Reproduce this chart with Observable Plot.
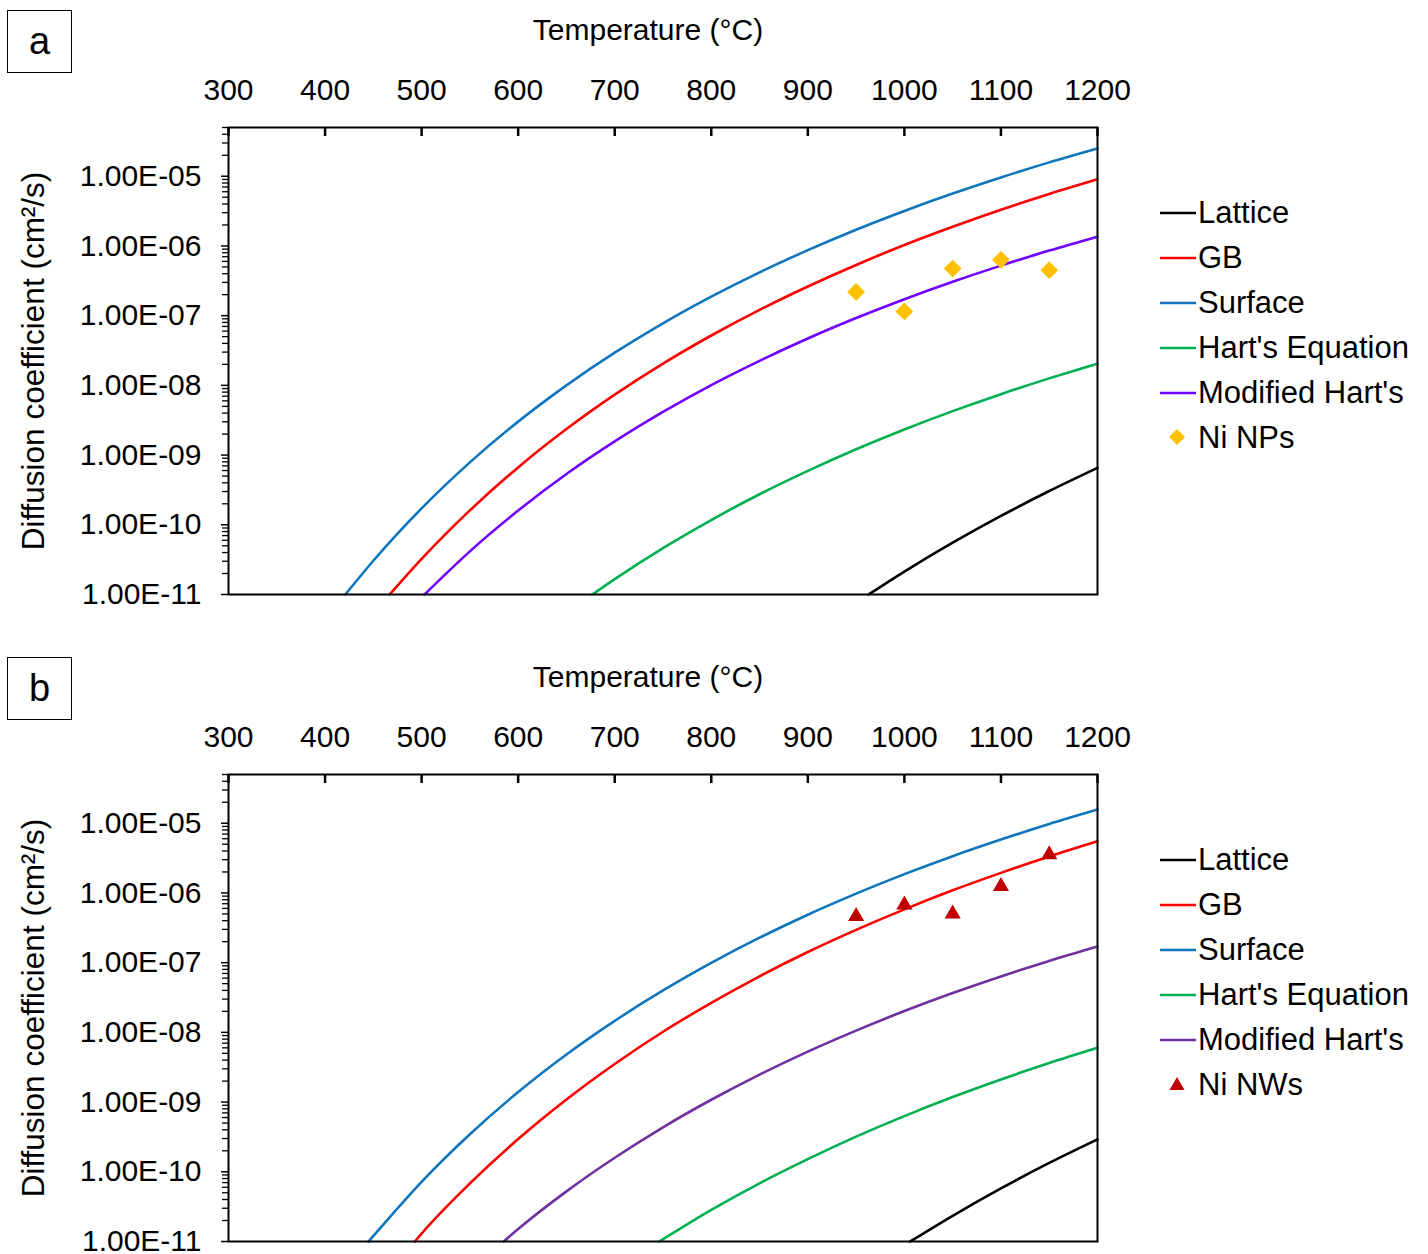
<!DOCTYPE html>
<html><head><meta charset="utf-8">
<script src="https://cdn.jsdelivr.net/npm/d3@7"></script>
<script src="https://cdn.jsdelivr.net/npm/@observablehq/plot@0.6"></script>
<style>
body{margin:0;background:#fff;font-family:"Liberation Sans",Arial,sans-serif;color:#000;}
#wrap{position:relative;width:1428px;height:1254px;overflow:hidden;background:#fff;}
.panel{position:absolute;left:0;width:1428px;height:606px;}
.panel svg{position:absolute;left:0;top:0;}
.tag{position:absolute;left:7px;top:10px;width:63px;height:61px;border:1.5px solid #000;font-size:38px;display:flex;align-items:center;justify-content:center;background:#fff;}
.row{position:absolute;left:1160px;height:44px;display:flex;align-items:center;white-space:nowrap;font-size:31px;}
.row svg{position:static;margin-right:2px;}
</style></head><body><div id="wrap"></div>
<script>
// Temperature grid (°C) for the curves
const temps = [450, 500, 550, 600, 650, 700, 750, 800, 850, 900, 950, 1000, 1050, 1100, 1150, 1200];
const xTicks = [300, 400, 500, 600, 700, 800, 900, 1000, 1100, 1200];
const seriesNames = ["Lattice", "GB", "Surface", "Hart's Equation", "Modified Hart's"];

// Panel a — Ni NPs (cm²/s), null = below 1e-11
const onsetA = {"Lattice": 963, "GB": 467, "Surface": 421, "Hart's Equation": 677, "Modified Hart's": 503};
const latticeA = [null, null, null, null, null, null, null, null, null, null, null, 2.13e-11, 5.53e-11, 1.34e-10, 3.05e-10, 6.56e-10];
const gbA = [null, 3.24e-11, 1.61e-10, 6.66e-10, 2.36e-9, 7.35e-9, 2.05e-8, 5.19e-8, 1.21e-7, 2.62e-7, 5.34e-7, 1.03e-6, 1.88e-6, 3.30e-6, 5.57e-6, 9.06e-6];
const surfaceA = [3.05e-11, 1.72e-10, 7.86e-10, 3.02e-9, 1.00e-8, 2.94e-8, 7.76e-8, 1.87e-7, 4.18e-7, 8.70e-7, 1.71e-6, 3.18e-6, 5.64e-6, 9.60e-6, 1.58e-5, 2.50e-5];
const hartA = [null, null, null, null, null, 1.66e-11, 4.63e-11, 1.17e-10, 2.74e-10, 5.93e-10, 1.21e-9, 2.33e-9, 4.27e-9, 7.48e-9, 1.26e-8, 2.05e-8];
const modHartA = [null, null, 4.16e-11, 1.60e-10, 5.35e-10, 1.57e-9, 4.16e-9, 1.01e-8, 2.25e-8, 4.70e-8, 9.23e-8, 1.72e-7, 3.06e-7, 5.22e-7, 8.57e-7, 1.36e-6];

// Panel b — Ni NWs
const onsetB = {"Lattice": 1006, "GB": 493, "Surface": 445, "Hart's Equation": 746, "Modified Hart's": 585};
const latticeB = [null, null, null, null, null, null, null, null, null, null, null, null, 2.34e-11, 5.78e-11, 1.34e-10, 2.92e-10];
const gbB = [null, 1.30e-11, 6.81e-11, 2.95e-10, 1.09e-9, 3.52e-9, 1.02e-8, 2.65e-8, 6.37e-8, 1.42e-7, 2.95e-7, 5.81e-7, 1.09e-6, 1.94e-6, 3.33e-6, 5.50e-6];
const surfaceB = [1.20e-11, 7.18e-11, 3.45e-10, 1.39e-9, 4.81e-9, 1.46e-8, 3.99e-8, 9.93e-8, 2.28e-7, 4.87e-7, 9.77e-7, 1.86e-6, 3.37e-6, 5.83e-6, 9.75e-6, 1.57e-5];
const hartB = [null, null, null, null, null, null, 1.08e-11, 2.84e-11, 6.84e-11, 1.52e-10, 3.19e-10, 6.29e-10, 1.18e-9, 2.11e-9, 3.63e-9, 6.01e-9];
const modHartB = [null, null, null, 1.51e-11, 5.24e-11, 1.59e-10, 4.35e-10, 1.08e-9, 2.48e-9, 5.30e-9, 1.06e-8, 2.02e-8, 3.66e-8, 6.34e-8, 1.06e-7, 1.70e-7];

// Measured points
const ptTemps = [950, 1000, 1050, 1100, 1150];
const niNPs = [2.19e-7, 1.15e-7, 4.74e-7, 6.33e-7, 4.49e-7];
const niNWs = [4.6e-7, 6.76e-7, 5.02e-7, 1.24e-6, 3.54e-6];

const colorsA = {"Lattice": "#000000", "GB": "#ff0000", "Surface": "#0f75bd", "Hart's Equation": "#00b050", "Modified Hart's": "#7000ff"};
const colorsB = {"Lattice": "#000000", "GB": "#ff0000", "Surface": "#0f75bd", "Hart's Equation": "#00b050", "Modified Hart's": "#7030a0"};

const majorTicks = [1e-11, 1e-10, 1e-9, 1e-8, 1e-7, 1e-6, 1e-5];
const minorTicks = [];
for (let e = -11; e <= -5; e++) for (let m = 2; m <= 9; m++) { const v = m * Math.pow(10, e); if (v <= 5.0001e-5) minorTicks.push(v); }
const fmt = d => { const e = Math.round(Math.log10(d)); return "1.00E" + (e < 0 ? "-" : "+") + String(Math.abs(e)).padStart(2, "0"); };

const FONT = "Liberation Sans, Arial, sans-serif";

function buildRows(onset, valuesByName) {
  const out = {};
  for (const name of seriesNames) {
    const rows = [{T: onset[name], D: 1e-11}];
    valuesByName[name].forEach((v, i) => { if (v != null) rows.push({T: temps[i], D: v}); });
    out[name] = rows;
  }
  return out;
}

function makePanel(onset, valuesByName, colors, pts, symbol, ptColor, ptR) {
  const rows = buildRows(onset, valuesByName);
  const drawOrder = ["Lattice", "Hart's Equation", "Modified Hart's", "GB", "Surface"];
  return Plot.plot({
    width: 1428, height: 606,
    marginLeft: 228, marginRight: 331, marginTop: 127, marginBottom: 12,
    style: {fontFamily: FONT, fontSize: "30px", color: "#000", background: "transparent", overflow: "visible"},
    x: {domain: [300, 1200]},
    y: {type: "log", domain: [1e-11, 5e-5]},
    marks: [
      Plot.axisY(minorTicks, {anchor: "left", tickSize: 6, tickFormat: () => "", label: null, stroke: "#000", strokeWidth: 1.3}),
      Plot.axisY(majorTicks, {anchor: "left", tickSize: 7, tickPadding: 20, tickFormat: fmt, label: null, fontSize: 30, stroke: "#000", strokeWidth: 1.5}),
      Plot.axisX(xTicks, {anchor: "top", tickSize: 0, tickPadding: 28, tickFormat: d => String(d), label: null, fontSize: 30}),
      Plot.ruleX(xTicks, {x: d => d, insetBottom: 458, stroke: "#000", strokeWidth: 2.5}),
      ...drawOrder.map(name => Plot.line(rows[name], {x: "T", y: "D", stroke: colors[name], strokeWidth: 2.6, curve: "monotone-x"})),
      Plot.dot(pts, {x: "T", y: "D", symbol: symbol, fill: ptColor, stroke: "none", r: ptR}),
      Plot.frame({stroke: "#000", strokeWidth: 2}),
      Plot.text(["Temperature (°C)"], {text: d => d, frameAnchor: "top", dx: -15, dy: -109, fontSize: 30, fill: "#000"}),
      Plot.text(["Diffusion coefficient (cm²/s)"], {text: d => d, frameAnchor: "left", textAnchor: "middle", dx: -195, rotate: -90, fontSize: 31.5, fill: "#000"})
    ]
  });
}

function legend(container, colors, ptLabel, ptShape, ptColor) {
  const centers = [213, 258, 303, 348, 393, 438];
  seriesNames.forEach((name, i) => {
    const row = document.createElement("div");
    row.className = "row";
    row.style.top = (centers[i] - 22) + "px";
    row.innerHTML = `<svg width="36" height="10"><line x1="0" y1="5" x2="36" y2="5" stroke="${colors[name]}" stroke-width="2.5"/></svg><span>${name.replace("'", "&#39;")}</span>`;
    container.appendChild(row);
  });
  const row = document.createElement("div");
  row.className = "row";
  row.style.top = (centers[5] - 22) + "px";
  const shape = ptShape === "diamond"
    ? `<path d="M17,-1 L25,7 L17,15 L9,7 Z" fill="${ptColor}"/>`
    : `<path d="M17,0 L24.5,13 L9.5,13 Z" fill="${ptColor}"/>`;
  row.innerHTML = `<svg width="36" height="16" style="overflow:visible">${shape}</svg><span>${ptLabel}</span>`;
  container.appendChild(row);
}

const wrap = document.getElementById("wrap");

const panelA = document.createElement("div");
panelA.className = "panel"; panelA.style.top = "0px";
panelA.appendChild(makePanel(onsetA,
  {"Lattice": latticeA, "GB": gbA, "Surface": surfaceA, "Hart's Equation": hartA, "Modified Hart's": modHartA},
  colorsA, ptTemps.map((T, i) => ({T, D: niNPs[i]})), "diamond2", "#ffc000", 8));
const tagA = document.createElement("div"); tagA.className = "tag"; tagA.textContent = "a"; panelA.appendChild(tagA);
legend(panelA, colorsA, "Ni NPs", "diamond", "#ffc000");
wrap.appendChild(panelA);

const panelB = document.createElement("div");
panelB.className = "panel"; panelB.style.top = "647px";
panelB.appendChild(makePanel(onsetB,
  {"Lattice": latticeB, "GB": gbB, "Surface": surfaceB, "Hart's Equation": hartB, "Modified Hart's": modHartB},
  colorsB, ptTemps.map((T, i) => ({T, D: niNWs[i]})), "triangle", "#c00000", 6));
const tagB = document.createElement("div"); tagB.className = "tag"; tagB.textContent = "b"; panelB.appendChild(tagB);
legend(panelB, colorsB, "Ni NWs", "triangle", "#c00000");
wrap.appendChild(panelB);
</script></body></html>
